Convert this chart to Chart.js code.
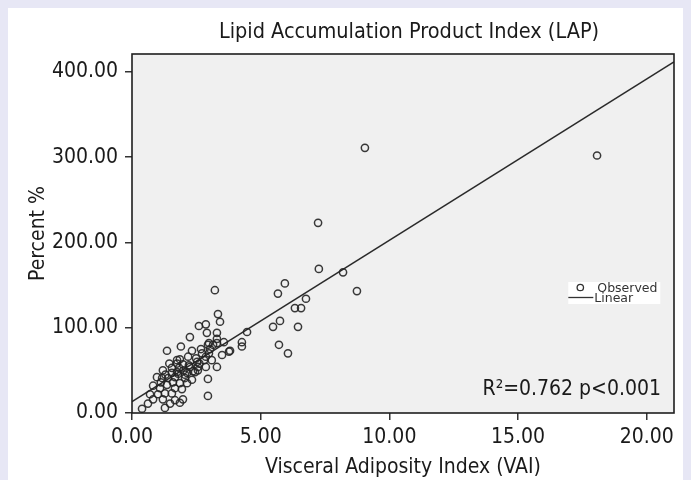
<!DOCTYPE html>
<html>
<head>
<meta charset="utf-8">
<script src="https://cdn.jsdelivr.net/npm/chart.js@4"></script>
<style>
  html, body { margin: 0; padding: 0; }
  body { width: 691px; height: 480px; background: #e7e7f5; position: relative; overflow: hidden; }
  #panel { position: absolute; left: 8px; top: 8px; width: 675px; height: 472px; background: #ffffff; }
  #wrap { position: absolute; left: 0; top: 0; width: 691px; height: 480px; }
</style>
</head>
<body>
<div id="panel"></div>
<div id="wrap"><canvas id="c" width="691" height="480"></canvas></div>
<script>
// ---- data ----
const vaiValues = [
  9.05, 18.07, 7.23, 7.26, 8.2, 8.74, 5.94, 5.67, 3.22, 6.76, 6.33, 6.57, 5.75, 5.48, 6.45, 4.47, 4.27, 4.27, 5.71, 6.06, 3.81,
  3.34, 3.42, 3.3, 3.57, 3.3, 3.77, 3.5, 3.3,
  2.6, 2.87, 2.91, 2.25, 1.36, 1.9, 2.33, 2.68, 2.99, 3.03, 2.72, 2.99,
  3.15, 2.95, 3.3,
  1.86, 2.18, 2.49, 2.53, 2.8, 3.1, 2.87,
  2.21, 1.98, 1.75, 1.75,
  1.55, 1.2, 1.83, 2.37, 2.56, 2.87, 2.25, 2.56,
  2.95, 2.95,
  0.97, 1.17, 1.4, 1.55, 1.79, 2.06, 2.14, 2.45, 1.75, 1.67, 2.06,
  2.33, 1.59, 1.86, 2.14, 1.36, 0.82, 1.09, 1.67, 1.94,
  0.7, 1.01, 1.28, 1.55,
  0.82, 1.2, 1.67, 1.98,
  1.48, 1.86, 1.28, 0.39, 0.62,
  1.45, 1.3, 2.0, 2.62, 1.12
];
const lapValues = [
  311, 302, 223, 169, 165, 143, 152, 140, 144, 134, 123, 123, 108, 101, 101, 95, 83, 78, 80, 70, 73,
  116, 107, 94, 83, 82, 72, 68, 54,
  102, 104, 94, 89, 73, 78, 73, 75, 82, 75, 70, 70,
  80, 80, 87,
  63, 66, 64, 60, 62, 62, 66,
  56, 57, 58, 62,
  53, 50, 53, 49, 50, 54, 54, 54,
  40, 20,
  42, 41, 41, 47, 46, 45, 47, 48, 48, 42, 41,
  39, 36, 35, 35, 33, 32, 29, 29, 28,
  22, 22, 23, 23,
  16, 16, 15, 16,
  11, 12, 6, 5, 11,
  58, 45, 50, 58, 36
];
const fitIntercept = 13.3;
const fitSlope = 18.92;
const xTicks = [0, 5, 10, 15, 20];
const yTicks = [0, 100, 200, 300, 400];
const xRange = [0, 21.06];
const yRange = [0, 421];
const titleText = 'Lipid Accumulation Product Index (LAP)';
const xTitle = 'Visceral Adiposity Index (VAI)';
const yTitle = 'Percent %';
const statText = 'R\u00B2=0.762 p<0.001';
const legendLabels = ['Observed', 'Linear'];

// ---- build ----
const FONT = "'DejaVu Sans Condensed', 'DejaVu Sans', sans-serif";
const observed = vaiValues.map((v, i) => ({ x: v, y: lapValues[i] }));
const fitLine = [xRange[0], xRange[1]].map(x => ({ x: x, y: fitIntercept + fitSlope * x }));

const framePlugin = {
  id: 'frame',
  beforeDraw(chart) {
    const { ctx, chartArea: a } = chart;
    ctx.save();
    ctx.fillStyle = '#f0f0f0';
    ctx.fillRect(a.left, a.top, a.right - a.left, a.bottom - a.top);
    ctx.restore();
  },
  afterDraw(chart) {
    const { ctx, chartArea: a } = chart;
    ctx.save();
    ctx.strokeStyle = '#1e1e1e';
    ctx.lineWidth = 1.6;
    ctx.strokeRect(a.left, a.top, a.right - a.left, a.bottom - a.top);
    // title
    ctx.fillStyle = '#1a1a1a';
    ctx.font = '21.5px ' + FONT;
    ctx.textAlign = 'center';
    ctx.textBaseline = 'middle';
    ctx.fillText(titleText, (a.left + a.right) / 2 + 6, 32);
    // stat text
    ctx.font = '21px ' + FONT;
    ctx.textAlign = 'right';
    ctx.fillText(statText, a.right - 13, 390);
    // legend
    const lx = a.left + (a.right - a.left) * 0.805, ly = 282;
    ctx.fillStyle = '#ffffff';
    ctx.fillRect(lx, ly, 92, 22);
    ctx.strokeStyle = '#333';
    ctx.lineWidth = 1.3;
    ctx.beginPath();
    ctx.arc(lx + 12, ly + 5.5, 3.2, 0, Math.PI * 2);
    ctx.stroke();
    ctx.lineWidth = 1.3;
    ctx.beginPath();
    ctx.moveTo(lx, ly + 15.5);
    ctx.lineTo(lx + 25, ly + 15.5);
    ctx.stroke();
    ctx.fillStyle = '#333';
    ctx.font = '12.5px ' + "'DejaVu Sans', sans-serif";
    ctx.textAlign = 'left';
    ctx.fillText(legendLabels[0], lx + 29, ly + 6.5);
    ctx.fillText(legendLabels[1], lx + 26, ly + 16.5);
    ctx.restore();
  }
};

new Chart(document.getElementById('c'), {
  type: 'scatter',
  data: {
    datasets: [
      {
        label: legendLabels[0],
        data: observed,
        pointStyle: 'circle',
        pointRadius: 3.6,
        pointBorderWidth: 1.5,
        borderColor: 'rgba(35,35,35,0.9)',
        backgroundColor: 'rgba(0,0,0,0)',
        pointHoverRadius: 3.6
      },
      {
        label: legendLabels[1],
        data: fitLine,
        showLine: true,
        borderColor: '#2a2a2a',
        borderWidth: 1.6,
        pointRadius: 0,
        pointHoverRadius: 0,
        fill: false
      }
    ]
  },
  options: {
    responsive: false,
    animation: false,
    events: [],
    layout: { padding: { top: 54, right: 17, left: 0, bottom: 0 } },
    plugins: { legend: { display: false }, tooltip: { enabled: false }, title: { display: false } },
    scales: {
      x: {
        type: 'linear',
        min: xRange[0],
        max: xRange[1],
        afterFit(s) { s.height = 67; },
        afterBuildTicks(s) { s.ticks = xTicks.map(v => ({ value: v })); },
        grid: { drawOnChartArea: false, drawTicks: true, tickLength: 7, color: '#333', lineWidth: 1.5 },
        border: { display: false },
        ticks: { color: '#1a1a1a', font: { family: FONT, size: 21 }, padding: 5, maxRotation: 0,
                 callback: v => Number(v).toFixed(2) },
        title: { display: true, text: xTitle, color: '#1a1a1a', font: { family: FONT, size: 21 }, padding: { top: 0, bottom: 0 } }
      },
      y: {
        type: 'linear',
        min: yRange[0],
        max: yRange[1],
        afterFit(s) { s.width = 132; },
        afterBuildTicks(s) { s.ticks = yTicks.map(v => ({ value: v })); },
        grid: { drawOnChartArea: false, drawTicks: true, tickLength: 7, color: '#333', lineWidth: 1.5 },
        border: { display: false },
        ticks: { color: '#1a1a1a', font: { family: FONT, size: 21 }, padding: 7,
                 callback: v => Number(v).toFixed(2) },
        title: { display: true, text: yTitle, color: '#1a1a1a', font: { family: FONT, size: 21 }, padding: { top: 26, bottom: 0 } }
      }
    }
  },
  plugins: [framePlugin]
});
</script>
</body>
</html>
